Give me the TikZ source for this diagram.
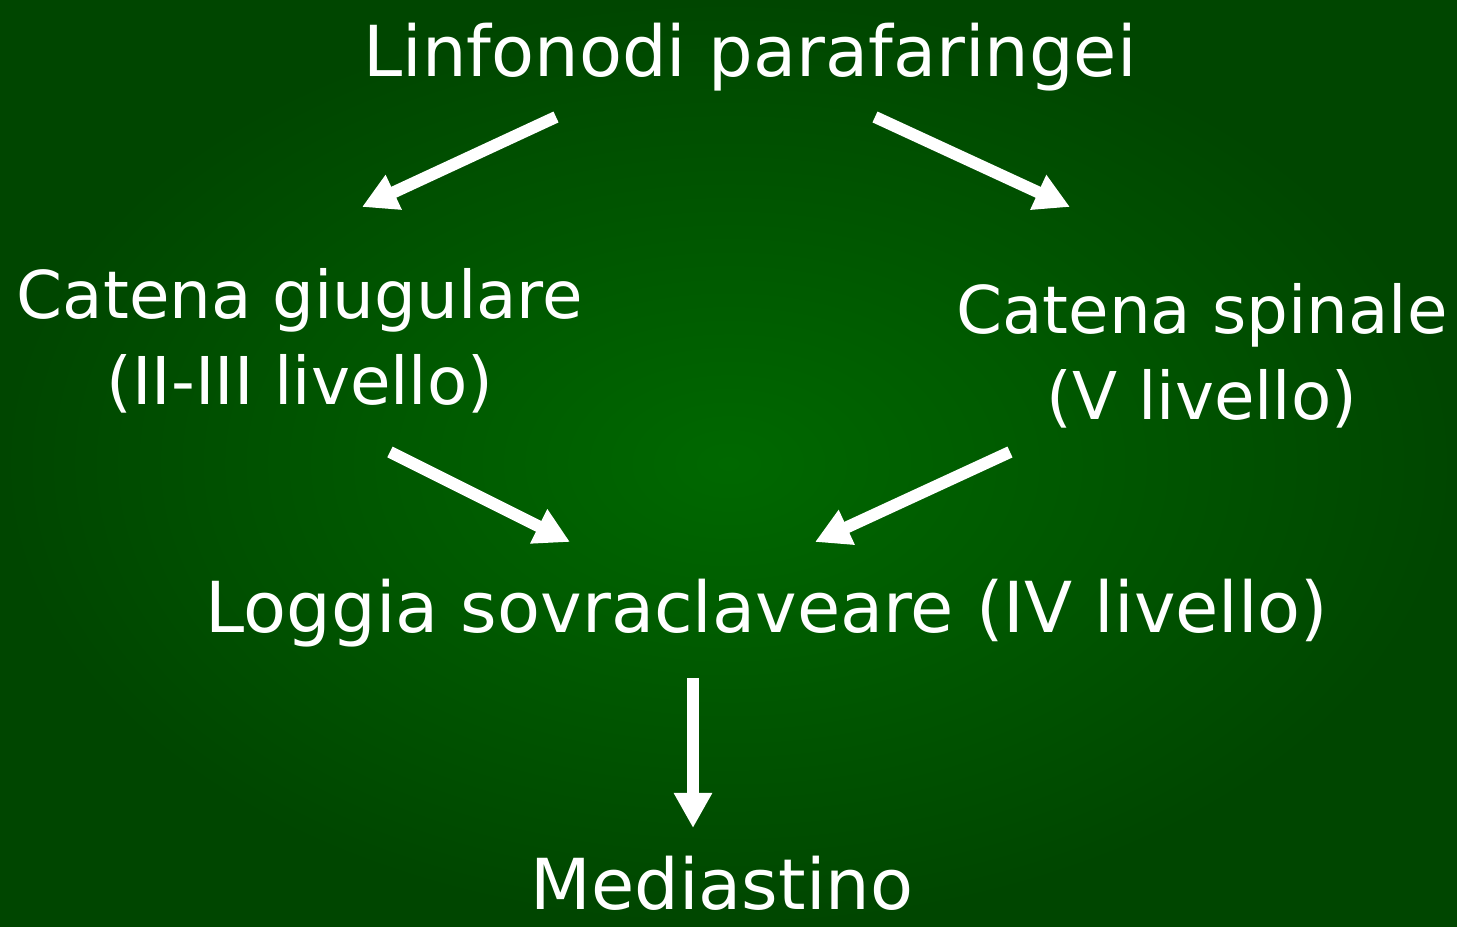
\documentclass[tikz,border=0pt]{standalone}
\usepackage{fontspec}
\setmainfont{DejaVu Sans}
\usetikzlibrary{arrows.meta}
\definecolor{bginner}{RGB}{0,104,0}
\definecolor{bgouter}{RGB}{0,70,0}
\begin{document}
\begin{tikzpicture}[
	label/.style={text=white, font=\fontsize{40}{49}\selectfont, align=center, inner sep=0pt},
	sidelabel/.style={label, font=\fontsize{37.5}{49}\selectfont},
	flow/.style={draw=white, line width=0.24cm, -{Triangle[length=0.7cm, width=0.72cm]}}
	]
	%%%%% START %%%%%
	\shade[inner color=bginner, outer color=bgouter] (0, 0) rectangle (29.14, 18.54);
	\useasboundingbox (0, 0) rectangle (29.14, 18.54);
	
	\node[label, anchor=base] (lin) at (15.0, 17.0) {Linfonodi parafaringei};
	\node[sidelabel, anchor=base] (giu) at (6.0, 10.44) {Catena giugulare\\(II-III livello)};
	\node[sidelabel, anchor=base] (spi) at (24.04, 10.14) {Catena spinale\\(V livello)};
	\node[label, anchor=base] (log) at (15.34, 5.88) {Loggia sovraclaveare (IV livello)};
	\node[label, anchor=base] (med) at (14.44, 0.34) {Mediastino};
	
	\coordinate (lin-l) at (11.12, 16.2);
	\coordinate (giu-in) at (7.24, 14.4);
	\coordinate (lin-r) at (17.5, 16.2);
	\coordinate (spi-in) at (21.4, 14.4);
	\coordinate (giu-out) at (7.8, 9.5);
	\coordinate (log-l) at (11.4, 7.7);
	\coordinate (spi-out) at (20.2, 9.5);
	\coordinate (log-r) at (16.3, 7.7);
	\coordinate (log-out) at (13.86, 4.98);
	\coordinate (med-in) at (13.86, 1.98);
	
	\draw[flow] (lin-l) -- (giu-in);
	\draw[flow] (lin-r) -- (spi-in);
	\draw[flow] (giu-out) -- (log-l);
	\draw[flow] (spi-out) -- (log-r);
	\draw[flow] (log-out) -- (med-in);
	%%%%% END %%%%%
\end{tikzpicture}
\end{document}
